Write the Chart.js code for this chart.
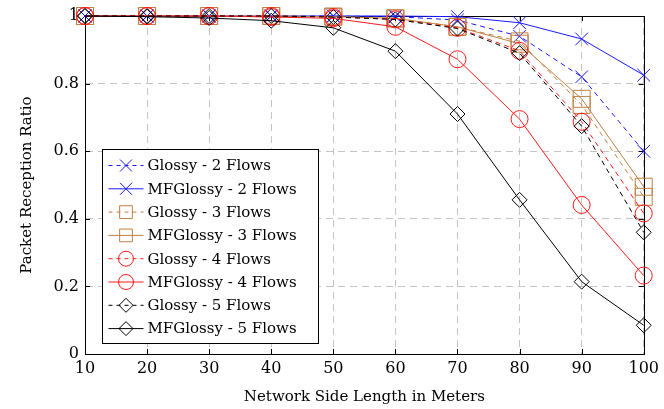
<!DOCTYPE html>
<html>
<head>
<meta charset="utf-8">
<script src="https://cdn.jsdelivr.net/npm/chart.js@4/dist/chart.umd.min.js"></script>
<style>
  html, body { margin: 0; padding: 0; background: #ffffff; }
  #wrap { width: 664px; height: 409px; position: relative; }
</style>
</head>
<body>
<div id="wrap"><canvas id="c" width="664" height="409"></canvas></div>
<script>
const sideLengths = [10, 20, 30, 40, 50, 60, 70, 80, 90, 100];
const yTickValues = [0, 0.2, 0.4, 0.6, 0.8, 1];

const seriesNames = [
  'Glossy - 2 Flows', 'MFGlossy - 2 Flows',
  'Glossy - 3 Flows', 'MFGlossy - 3 Flows',
  'Glossy - 4 Flows', 'MFGlossy - 4 Flows',
  'Glossy - 5 Flows', 'MFGlossy - 5 Flows'
];

const glossy2   = [1, 1, 1, 1, 1, 0.998, 0.988, 0.940, 0.820, 0.600];
const mfglossy2 = [1, 1, 1, 1, 1, 1, 0.998, 0.980, 0.932, 0.825];
const glossy3   = [1, 1, 1, 1, 0.998, 0.993, 0.968, 0.925, 0.737, 0.465];
const mfglossy3 = [1, 1, 1, 1, 0.998, 0.993, 0.968, 0.918, 0.755, 0.495];
const glossy4   = [1, 1, 1, 1, 0.997, 0.990, 0.965, 0.897, 0.687, 0.416];
const mfglossy4 = [1, 1, 1, 0.997, 0.993, 0.968, 0.872, 0.695, 0.441, 0.232];
const glossy5   = [1, 1, 1, 1, 0.997, 0.990, 0.963, 0.890, 0.674, 0.360];
const mfglossy5 = [1, 0.998, 0.994, 0.986, 0.965, 0.896, 0.710, 0.456, 0.214, 0.085];

const seriesValues = [glossy2, mfglossy2, glossy3, mfglossy3, glossy4, mfglossy4, glossy5, mfglossy5];

const BLUE = '#1a1aff', BROWN = '#bf8040', RED = '#ff1a1a', BLACK = '#000000';
const styles = [
  { color: BLUE,  dash: [5, 4], point: 'crossRot', r: 9,   lr: 8.5 },
  { color: BLUE,  dash: [],     point: 'crossRot', r: 9,   lr: 8.5 },
  { color: BROWN, dash: [5, 4], point: 'rect',     r: 12,  lr: 9 },
  { color: BROWN, dash: [],     point: 'rect',     r: 12,  lr: 9 },
  { color: RED,   dash: [5, 4], point: 'circle',   r: 8.5, lr: 7.5 },
  { color: RED,   dash: [],     point: 'circle',   r: 8.5, lr: 7.5 },
  { color: BLACK, dash: [5, 4], point: 'rectRot',  r: 7.5, lr: 7 },
  { color: BLACK, dash: [],     point: 'rectRot',  r: 7.5, lr: 7 }
];

const FONT = "'DejaVu Serif', 'Liberation Serif', serif";

const datasets = seriesNames.map((name, i) => ({
  label: name,
  data: sideLengths.map((x, j) => ({ x: x, y: seriesValues[i][j] })),
  borderColor: styles[i].color,
  backgroundColor: 'rgba(0,0,0,0)',
  borderWidth: 1,
  borderDash: styles[i].dash,
  pointStyle: styles[i].point,
  pointRadius: styles[i].r,
  pointBorderWidth: 1,
  pointBorderColor: styles[i].color,
  pointBackgroundColor: 'rgba(0,0,0,0)',
  pointHoverRadius: styles[i].r,
  tension: 0,
  fill: false,
  clip: false,
  order: seriesNames.length - i
}));

const framePlugin = {
  id: 'frame',
  beforeDatasetsDraw(chart) {
    const { ctx, chartArea: a } = chart;
    ctx.save();
    ctx.strokeStyle = '#000';
    ctx.lineWidth = 1;
    ctx.setLineDash([]);
    ctx.strokeRect(Math.round(a.left) + 0.5, Math.round(a.top) + 0.5,
                   Math.round(a.right - a.left), Math.round(a.bottom - a.top));
    const xs = chart.scales.x, ys = chart.scales.y;
    ctx.beginPath();
    sideLengths.forEach(v => {
      const px = Math.round(xs.getPixelForValue(v)) + 0.5;
      ctx.moveTo(px, a.bottom); ctx.lineTo(px, a.bottom - 5);
      ctx.moveTo(px, a.top); ctx.lineTo(px, a.top + 5);
    });
    yTickValues.forEach(v => {
      const py = Math.round(ys.getPixelForValue(v)) + 0.5;
      ctx.moveTo(a.left, py); ctx.lineTo(a.left + 5, py);
      ctx.moveTo(a.right, py); ctx.lineTo(a.right - 5, py);
    });
    ctx.stroke();
    ctx.restore();
  }
};

const legendPlugin = {
  id: 'innerLegend',
  afterDatasetsDraw(chart) {
    const { ctx, chartArea: a } = chart;
    const boxW = 216, boxH = 194;
    const bx = Math.round(a.left + 17) + 0.5;
    const by = Math.round(a.bottom - 11 - boxH) + 0.5;
    ctx.save();
    ctx.fillStyle = '#ffffff';
    ctx.fillRect(bx, by, boxW, boxH);
    ctx.strokeStyle = '#000';
    ctx.lineWidth = 1;
    ctx.setLineDash([]);
    ctx.strokeRect(bx, by, boxW, boxH);
    const rowH = 23.3;
    chart.data.datasets.forEach((ds, i) => {
      const cy = by + 16 + i * rowH;
      const x0 = bx + 6, x1 = bx + 41, xc = bx + 23.5;
      ctx.strokeStyle = ds.borderColor;
      ctx.lineWidth = 1;
      ctx.setLineDash(ds.borderDash.length ? [4, 4] : []);
      ctx.beginPath();
      ctx.moveTo(x0, cy); ctx.lineTo(x1, cy);
      ctx.stroke();
      ctx.setLineDash([]);
      ctx.fillStyle = 'rgba(0,0,0,0)';
      Chart.helpers.drawPoint(ctx, {
        pointStyle: ds.pointStyle,
        rotation: 0,
        radius: styles[i].lr,
        borderWidth: 1
      }, xc, cy);
      ctx.fillStyle = '#000';
      ctx.font = "15px " + FONT;
      ctx.textBaseline = 'middle';
      ctx.textAlign = 'left';
      ctx.fillText(ds.label, bx + 45, cy + 1);
    });
    ctx.restore();
  }
};

const gridOpts = {
  color: '#c4c4c4',
  lineWidth: 1,
  drawTicks: false,
  tickLength: 0
};

new Chart(document.getElementById('c'), {
  type: 'line',
  data: { datasets: datasets },
  options: {
    responsive: false,
    animation: false,
    devicePixelRatio: 1,
    layout: { padding: { left: 0, right: 14, top: 16, bottom: 0 } },
    plugins: {
      legend: { display: false },
      tooltip: { enabled: false }
    },
    scales: {
      x: {
        type: 'linear',
        min: 10, max: 100,
        afterBuildTicks(scale) { scale.ticks = sideLengths.map(v => ({ value: v })); },
        afterFit(scale) { scale.height = 55; },
        grid: gridOpts,
        border: { display: true, color: '#000', dash: [7, 5] },
        ticks: {
          color: '#000',
          font: { family: FONT, size: 16 },
          padding: 5,
          maxRotation: 0,
          autoSkip: false,
          callback: v => String(v)
        },
        title: {
          display: true,
          text: 'Network Side Length in Meters',
          color: '#000',
          font: { family: FONT, size: 15 },
          padding: { top: 0, bottom: 3 }
        }
      },
      y: {
        type: 'linear',
        min: 0, max: 1,
        afterBuildTicks(scale) { scale.ticks = yTickValues.map(v => ({ value: v })); },
        afterFit(scale) { scale.width = 85; },
        grid: gridOpts,
        border: { display: true, color: '#000', dash: [7, 5] },
        ticks: {
          color: '#000',
          font: { family: FONT, size: 16 },
          padding: 6,
          autoSkip: false,
          callback: v => String(v)
        },
        title: {
          display: true,
          text: 'Packet Reception Ratio',
          color: '#000',
          font: { family: FONT, size: 15 },
          padding: { top: 18, bottom: 0 }
        }
      }
    }
  },
  plugins: [framePlugin, legendPlugin]
});
</script>
</body>
</html>
